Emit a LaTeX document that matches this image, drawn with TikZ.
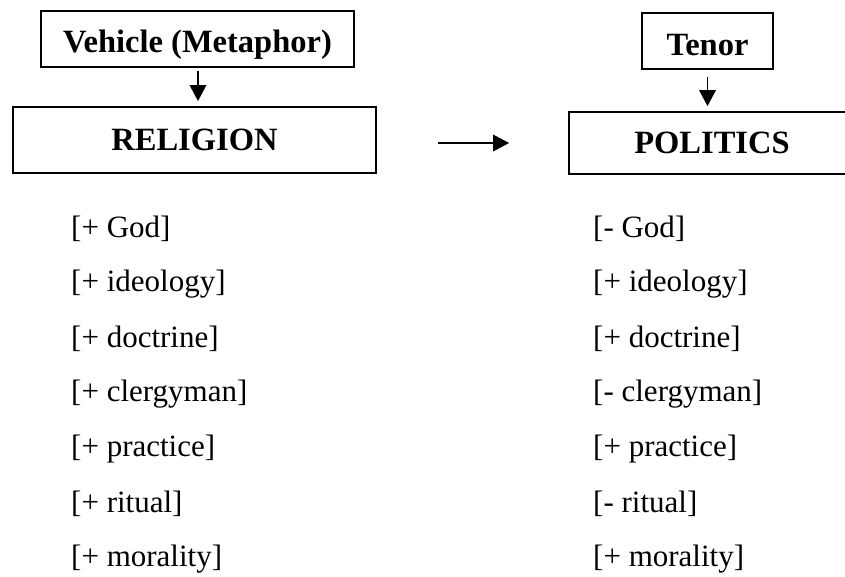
\documentclass[tikz,border=0pt]{standalone}
\usepackage{fontspec}
\setmainfont{Liberation Serif}
\usetikzlibrary{arrows.meta}
\begin{document}
\begin{tikzpicture}[x=1pt,y=-1pt,
  every node/.style={font=\fontsize{31}{37}\selectfont},
  box/.style={draw,line width=1.8pt,inner sep=0pt,text depth=0pt,text height=21.5pt,
    font=\fontsize{32.5}{38}\selectfont\bfseries},
  arr/.style={line width=1.8pt,-{Triangle[length=16pt,width=16.5pt]}},
  feat/.style={anchor=west,inner sep=0pt}]
\clip (0,0) rectangle (845,576);
% heading boxes
\node[box,minimum width=313pt,minimum height=56pt,text height=26pt] (veh) at (197.5,39) {Vehicle (Metaphor)};
\node[box,minimum width=363pt,minimum height=66pt] (rel) at (194.5,140) {RELIGION};
\node[box,minimum width=131pt,minimum height=56pt,text height=28pt] (ten) at (707.5,41) {Tenor};
\node[box,minimum width=286pt,minimum height=62pt] (pol) at (712,143) {POLITICS};
% connectors
\draw[arr,shorten <=3pt,shorten >=5pt] ([xshift=0.5pt]veh.south) -- ([xshift=0.5pt]veh.south |- rel.north);
\draw[arr,shorten <=7pt,shorten >=5pt] (ten.south) -- (ten.south |- pol.north);
\coordinate (mstart) at ([xshift=61pt]rel.east |- pol.west);
\coordinate (mend) at ([xshift=-59pt]pol.west);
\draw[arr] (mstart) -- (mend);
% feature lists
\foreach \f [count=\i from 0] in {{[+ God]},{[+ ideology]},{[+ doctrine]},{[+ clergyman]},{[+ practice]},{[+ ritual]},{[+ morality]}}
  \node[feat] (l\i) at (71,229+55*\i) {\f};
\foreach \f [count=\i from 0] in {{[- God]},{[+ ideology]},{[+ doctrine]},{[- clergyman]},{[+ practice]},{[- ritual]},{[+ morality]}}
  \node[feat] (r\i) at (593,229+55*\i) {\f};
\end{tikzpicture}
\end{document}
